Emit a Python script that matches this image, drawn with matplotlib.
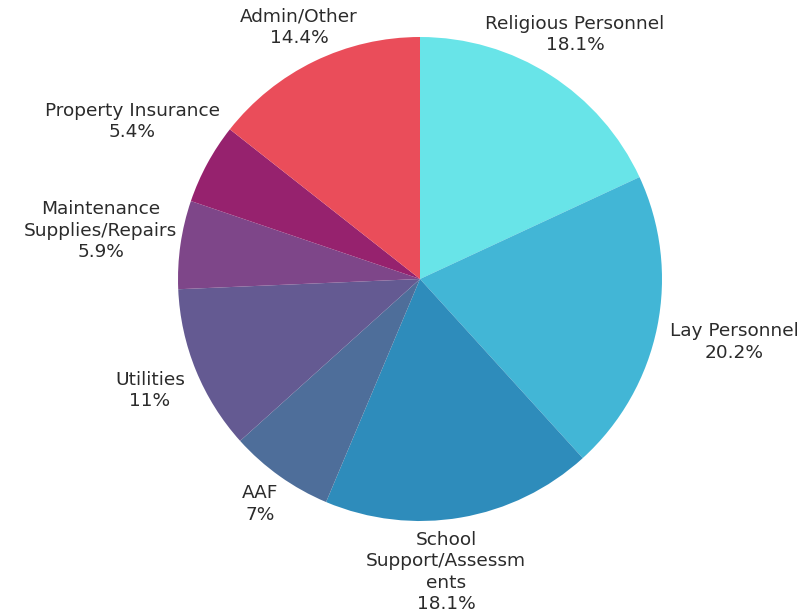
import matplotlib
matplotlib.use("Agg")
import matplotlib.pyplot as plt

categories = ["Religious Personnel", "Lay Personnel", "School\nSupport/Assessm\nents", "AAF",
              "Utilities", "Maintenance\nSupplies/Repairs", "Property Insurance", "Admin/Other"]
values = [18.1, 20.2, 18.1, 7, 11, 5.9, 5.4, 14.4]
value_labels = ["18.1%", "20.2%", "18.1%", "7%", "11%", "5.9%", "5.4%", "14.4%"]
colors = ["#68E4E8", "#42B6D6", "#2E8CBB", "#4E6E9A", "#645A92", "#7E4689", "#96226E", "#EA4D5A"]

# label centres in data units (pie radius = 1)
label_pos = [(0.64, 1.01), (1.30, -0.26), (0.107, -1.21), (-0.66, -0.93),
             (-1.116, -0.46), (-1.32, 0.20), (-1.19, 0.65), (-0.50, 1.04)]

W, H = 804, 613
cx, cy, R = 420, 279, 242
fig = plt.figure(figsize=(W / 100, H / 100), dpi=100)
ax = fig.add_axes([0, 0, 1, 1])
ax.pie(values, colors=colors, startangle=90, counterclock=False, radius=1,
       wedgeprops=dict(linewidth=0))
ax.set_xlim(-cx / R, (W - cx) / R)
ax.set_ylim(-(H - cy) / R, cy / R)
ax.set_aspect("equal")
ax.axis("off")

for cat, vl, (x, y) in zip(categories, value_labels, label_pos):
    ax.text(x, y, f"{cat}\n{vl}", ha="center", va="center", fontsize=13.3,
            color="#2b2b2b", linespacing=1.25, family="DejaVu Sans")

fig.savefig("out.png", dpi=100, facecolor="white")
